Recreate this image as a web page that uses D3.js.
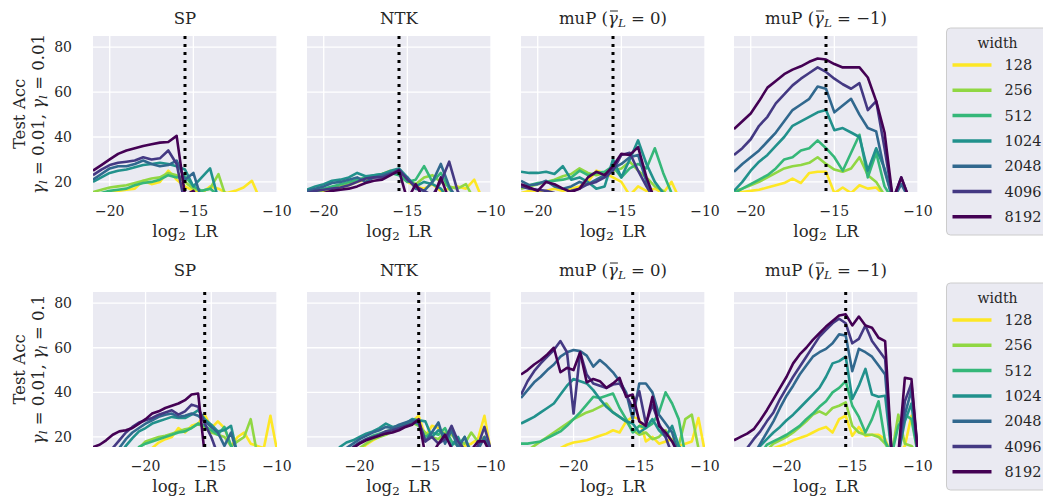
<!DOCTYPE html>
<html>
<head>
<meta charset="utf-8">
<script src="https://cdn.jsdelivr.net/npm/d3@7"></script>
<style>
  body { margin: 0; background: #fff; }
  text { font-family: "DejaVu Serif", serif; fill: #262626; }
</style>
</head>
<body>
<div id="viz"></div>
<script>
// log2 learning-rate grids (top row / bottom row)
var lr_top = d3.range(-21, -9.99, 0.5)
var lr_bot = d3.range(-24, -9.99, 0.5)
var widths = [128, 256, 512, 1024, 2048, 4096, 8192]
var opt_lr = -15.5
var acc_ticks = [20, 40, 60, 80]
var lr_ticks = [-20, -15, -10]

// test accuracy, one row per width (128 ... 8192); top row: gamma = 0.01, 0.01
var sp_top = [
  [14,14.5,15,16,16.5,17,20.5,19,20,25,21,18,16,15,18,17,15,16,17.5,20.5,12,10,10],
  [15.5,16.5,17.5,18,18.5,19.5,20.5,21.5,22,24,23,20,17,16,17,23.5,12,10,10,10,10,10,10],
  [14,15,16,16.5,17,18.5,19.5,20,21,23,22,22.5,18,16,17,14,10,10,10,10,10,10,10],
  [20,22,24,25,25.5,26.5,27.5,28,28.5,28,27,25.5,18,22,26,12,10,10,10,10,10,10,10],
  [21,23.5,26,27,27,28,29.5,28,27,27.5,29.5,21,24,12,10,10,10,10,10,10,10,10,10],
  [23,25.5,27.5,28.5,29,29.5,31,30,30.5,34,28,10,10,10,10,10,10,10,10,10,10,10,10],
  [25,27.5,30,32.5,34,35,36,36.8,37.5,37.8,40.5,14,16,10,10,10,10,10,10,10,10,10,10]
]
var ntk_top = [
  [14,15,15.5,16.5,17.5,18.5,20,21,22,23.5,25,24,20,18,17,19,16,17,18,17,21,12,10],
  [14,15,16.5,17.5,18.5,19.5,20.5,21.5,22.5,23,24.5,23.5,21,19,22,23,20,18,17,19,12,10,10],
  [15,16,17,18,19,20,21,22,23,23.5,24,23,20,21,27,20,24,17,12,10,10,10,10],
  [16.5,18,19,20.5,21,22,24,22.5,23,23.5,25,26,22,18,20,19,17,12,10,10,10,10,10],
  [16,17,18,19.5,20,21,22,20,22,23,24,24,22,17,16,20,28,18,12,10,10,10,10],
  [15,16,16.5,17,17.5,18.5,20,21.5,22,22,23.5,25.5,21,18,16,14,20,29,16,10,10,10,10],
  [14,14.5,15,16,16.5,17,18,19.5,20.5,21,23,25,12,19,12,12,22,12,10,10,10,10,10]
]
var mup0_top = [
  [15,16,15,16,17,16,17,18,20,25,24,22,20,14,18,16,17,15,20,12,10,10,10],
  [17,18,19,20,21,22.5,23.5,26,24,23,24,25,26,29,25,22,18,16,12,10,10,10,10],
  [18,18.5,19.5,20,20.5,21,22,25,23,24,24.5,27,22,26,28,26,35,24,15,12,10,10,10],
  [24.5,24,24,24.5,23.5,27,21,22,20,17,18,30,22,30,38.5,28,20,15,12,10,10,10,10],
  [20.5,18.5,19,20.5,18,17,18,20,19,21,23,26,28,31,32,20,12,10,10,10,10,10,10],
  [18,17,16.5,16,15,14,16,17,19,20,22,25,32,33,25,18,12,10,10,10,10,10,10],
  [19,17.5,16,20,19,17,15.5,17,22,24.5,23,27,32.5,32,35.5,22,12,10,10,10,10,10,10]
]
var mupm1_top = [
  [15,15.5,16,16.5,17.5,18.5,19.5,21.5,19.5,24,24.5,24.5,15,17.5,15,18.5,17,17.5,14,10,10,10,10],
  [16,17,18.5,20,22,24,26,27,27.5,28.5,31,28,25.5,24.5,26,31,23,20,14,12,10,10,10],
  [15,17,19,21,23,26,30,31,34,35,38.5,35,31,25,33,41,22,33,18,12,10,10,10],
  [16,20,25,29,32,36,40,45,47,49,51,52,43,44,42,40,25,35,26,12,10,10,10],
  [24.5,28,31,34,38,42,47,52,54.5,57,62.5,61.5,51,54,57,50,44,42.5,25,12,19,12,10],
  [32,35,39,45,49,55,59,63,66,68.5,71,69,66,63.5,61.5,64,52,56,35,12,22,12,10],
  [43.5,47,50.5,56,62,65,68,70,71.5,73.5,75,74.5,72.5,71,71,71,66.5,56,42,12,22,12,10]
]

// bottom row: gamma = 0.01, 0.1
var sp_bot = [
  [10,10,10,10,10,10,10,10,12,15,17.5,19,20,24,22,25,26,30,24,27,24,16,20,22,17,16,15,29.5,14],
  [10,10,10,10,10,10,12,15,18,19,20,20.5,21.5,22.5,23.5,24,26,24,22,21,20,16,18,20,28,12,10,10,10],
  [10,10,10,10,10,10,12,15.5,17,18,19,20,21,22,22.5,24,26,25,23,21,24.5,16,12,10,10,10,10,10,10],
  [10,10,10,10,12,16,19.5,22.5,24,26,27,28,29,28.5,28.5,30,32,28,25.5,22.5,23,25,12,10,10,10,10,10,10],
  [10,10,10,12,15,19,22,24,26,27.5,29,30,30.5,29,29.5,30.5,29.5,27,24.5,22,16,22,12,10,10,10,10,10,10],
  [10,10,10,15,18.5,22,24.5,26.5,27.5,28.5,30,31,32,30,31.5,34.5,33.5,26,20,12,10,10,10,10,10,10,10,10,10],
  [15.5,16.5,18.5,21,22.5,23,24,26,28,30.5,31.5,33,34,35,36.5,39,39.5,12,10,10,10,10,10,10,10,10,10,10,10]
]
var ntk_bot = [
  [10,10,10,10,10,10,10,12,14,16.5,18.5,20,21.5,23,24.5,25.5,27,29.5,20,25,24,21,22,18,16,17,19,29.5,13],
  [10,10,10,10,10,10,10,12,15,17,19,20,21,22.5,24,25.5,26.5,25,22,20,19,22,21,18,17,22,18,20,13],
  [10,10,10,10,10,10,12,15.5,17.5,19,20.5,21.5,22.5,23.5,24.5,25.5,27,25.5,20,22,21,24,18,16,20,13,10,10,10],
  [10,10,10,10,12,15.5,17.5,18.5,20,21.5,22.5,24,26,24.5,25,26,28,27.5,27,20,23,21,16,20,13,12,10,10,10],
  [10,10,10,10,10,12,15,17,19,20.5,22,23,24.5,24,25.5,26.5,27.5,26,18,22,26.5,17,23,15,20,12,14,20,13],
  [10,10,10,10,10,10,12,15.5,17.5,19,20,21,22.5,23,24,25,26,27.5,18,20,17,19,25,18,14,12,16,24.5,14],
  [10,10,10,10,10,10,10,15,17,18.5,19.5,20.5,21.5,22,23,24.5,25.5,28,12,12,17,21,15,12,12,14,18,18,12]
]
var mup0_bot = [
  [10,10,10,10,10,12,15,16.5,17.5,18,18.5,19.5,20.5,21.5,23,22,27,29,28,18,20,17,18,19,16,17,18,28.5,13],
  [12,14,16,18,20,22,24,26,28,29.5,31,32,33.5,35,31,29,27,23,21,22,19,20,23,18,16,28,30,15,12],
  [17,17,17.5,18,19.5,21,22.5,25,28,31,34.5,38,37.5,38.5,39.5,33,28,22,25,24,26,31,40,35,28,12,10,10,10],
  [26,27.5,29,31,33,35,39,43,46,45,44,41,37,33.5,31,29,27,26,22,24,28,23,20,25,16,12,10,10,10],
  [37.5,41,44.5,47,50,52.5,56,58,59,58.5,56.5,51.5,54.5,52,49,45,40,28,44,44,40,30,26,22,12,10,10,10,10],
  [39,45,49.5,53,56,59,63,58,30.5,58,48,44,43,42,43.5,44,39,33,40.5,26,34.5,26,20,12,10,10,10,10,10],
  [48,50,52.5,54.5,57,60,49,51,50,58,44.5,46,45,42,44,46.5,38,39,27,25,38,25,22,18,12,10,10,10,10]
]
var mupm1_bot = [
  [10,10,10,10,10,12,15,16,17,18.5,19.5,20.5,22,23.5,24.5,22,28,29.5,20.5,24.5,20.5,21,21,19,12,12,16,29.5,12],
  [10,10,10,10,12,14,17,18.5,20,22,24.5,27,30,31.5,30,33,34,35.5,25,22,21,21,20,17,12,30,17,16,12],
  [10,10,10,10,12,16.5,18,19.5,21,23,25,28,30.5,33.5,36,40,42,45,34,29,22,28,36,18,12,25,30,28,12],
  [10,10,10,12,16,19,22,24.5,27.5,30,33,36,39,42,47,53,54,56,37,43,50.5,39,38,38.5,12,12,27,35,12],
  [10,10,10,12,17,22,27,33,38.5,43,48,52,56,58,59.5,62,66,65.5,49.5,59.5,58,56,52,48,12,12,30,41,12],
  [10,12,15,19,22.5,27,31,37,42,47,51.5,56,60.5,65,68,71,73,71,62,64,70,63,59,55,12,12,36,44,12],
  [18.5,20,21.5,23.5,27.5,32,37,42,47,53,57,60,63.5,66.5,69.5,72,74.5,75,70,74,70,69,64.5,63,12,12,46.5,46,12]
]

var width = 1043, height = 502
var col_left = [93, 307, 521, 734], panel_w = 184
var rows = [
  { top: 36, h: 156, lr: lr_top, dom: [-21, -10], panels: [sp_top, ntk_top, mup0_top, mupm1_top], gamma: "0.01", legendTop: 28, titleOff: 18 },
  { top: 292, h: 155, lr: lr_bot, dom: [-24, -10], panels: [sp_bot, ntk_bot, mup0_bot, mupm1_bot], gamma: "0.1", legendTop: 283, titleOff: 22 }
]
var color = function (i) { return d3.interpolateViridis(1 - i / 6) }

var svg = d3.select("#viz").append("svg")
  .attr("width", width).attr("height", height)

// write text with italics / subscripts: parts = [[str, italic, sub], ...]
function mathText(t, parts, size) {
  var shift = 0
  parts.forEach(function (p) {
    var span = t.append("tspan").text(p[0])
    if (p[1]) span.style("font-style", "italic")
    var want = p[2] ? size * 0.3 : 0
    if (want != shift) { span.attr("dy", want - shift); shift = want }
    if (p[2]) span.style("font-size", (size * 0.72) + "px")
  })
}

function titleParts(c) {
  if (c == 0) return [["SP"]]
  if (c == 1) return [["NTK"]]
  return [["muP ("], ["\u03B3", true], ["L", true, true], [c == 2 ? " = 0)" : " = \u22121)"]]
}

rows.forEach(function (row, r) {
  var y = d3.scaleLinear().domain([15.5, 85]).range([row.h, 0])
  var x = d3.scaleLinear().domain(row.dom).range([0, panel_w])

  row.panels.forEach(function (series, c) {
    var g = svg.append("g").attr("transform", "translate(" + col_left[c] + "," + row.top + ")")
    g.append("rect").attr("width", panel_w).attr("height", row.h).attr("fill", "#eaeaf2")

    var clipId = "clip" + r + c
    g.append("clipPath").attr("id", clipId).append("rect")
      .attr("width", panel_w).attr("height", row.h)

    // grid
    g.selectAll(".hg").data(acc_ticks).enter().append("line")
      .attr("x1", 0).attr("x2", panel_w)
      .attr("y1", function (d) { return y(d) }).attr("y2", function (d) { return y(d) })
      .attr("stroke", "#fff").attr("stroke-width", 1.3)
    g.selectAll(".vg").data(lr_ticks).enter().append("line")
      .attr("x1", function (d) { return x(d) }).attr("x2", function (d) { return x(d) })
      .attr("y1", 0).attr("y2", row.h)
      .attr("stroke", "#fff").attr("stroke-width", 1.3)

    // tick labels
    g.selectAll(".xt").data(lr_ticks).enter().append("text")
      .attr("x", function (d) { return x(d) }).attr("y", row.h + 19)
      .attr("text-anchor", "middle").attr("dominant-baseline", "central")
      .style("font-size", "14px")
      .text(function (d) { return d3.format("d")(d) })
    if (c == 0) {
      g.selectAll(".yt").data(acc_ticks).enter().append("text")
        .attr("x", -21).attr("y", function (d) { return y(d) })
        .attr("text-anchor", "end").attr("dominant-baseline", "central")
        .style("font-size", "14px")
        .text(function (d) { return d })
    }

    // curves
    var line = d3.line()
      .x(function (d, i) { return x(row.lr[i]) })
      .y(function (d) { return y(d) })
    g.append("g").attr("clip-path", "url(#" + clipId + ")")
      .selectAll("path").data(series).enter().append("path")
      .attr("d", line)
      .attr("fill", "none")
      .attr("stroke", function (d, i) { return color(i) })
      .attr("stroke-width", 2.6)
      .attr("stroke-linejoin", "round")

    // reference lr
    g.append("line")
      .attr("x1", x(opt_lr)).attr("x2", x(opt_lr))
      .attr("y1", 0).attr("y2", row.h)
      .attr("stroke", "#000").attr("stroke-width", 3)
      .attr("stroke-dasharray", "3,5")

    // title
    var tt = g.append("text").attr("x", panel_w / 2).attr("y", -row.titleOff)
      .attr("text-anchor", "middle").attr("dominant-baseline", "central")
      .style("font-size", "16.5px")
    mathText(tt, titleParts(c), 16.5)
    if (c >= 2) {
      // bar over gamma
      var b = tt.node().getExtentOfChar(5)
      g.append("line")
        .attr("x1", b.x + 2).attr("x2", b.x + b.width)
        .attr("y1", b.y + 2.5).attr("y2", b.y + 2.5)
        .attr("stroke", "#262626").attr("stroke-width", 1)
    }

    // x label
    var xl = g.append("text").attr("x", panel_w / 2).attr("y", row.h + 39)
      .attr("text-anchor", "middle").attr("dominant-baseline", "central")
      .style("font-size", "16.5px")
    mathText(xl, [["log"], ["2", false, true], ["\u2009 LR"]], 16.5)
  })

  // y label (two lines)
  var cy = row.top + row.h / 2
  svg.append("text")
    .attr("transform", "translate(19," + cy + ") rotate(-90)")
    .attr("text-anchor", "middle").attr("dominant-baseline", "central")
    .style("font-size", "16.5px")
    .text("Test Acc")
  var yl = svg.append("text")
    .attr("transform", "translate(38," + cy + ") rotate(-90)")
    .attr("text-anchor", "middle").attr("dominant-baseline", "central")
    .style("font-size", "16.5px")
  mathText(yl, [["\u03B3", true], ["l", true, true], [" = 0.01, "], ["\u03B3", true], ["l", true, true], [" = " + row.gamma]], 16.5)

  // legend
  var lg = svg.append("g").attr("transform", "translate(946.5," + row.legendTop + ")")
  lg.append("rect").attr("width", 120).attr("height", 207).attr("rx", 4)
    .attr("fill", "#eaeaf2").attr("stroke", "#cccccc").attr("stroke-width", 1)
  lg.append("text").attr("x", 51).attr("y", 15).attr("text-anchor", "middle")
    .attr("dominant-baseline", "central").style("font-size", "14px").text("width")
  var items = lg.selectAll(".it").data(widths).enter().append("g")
    .attr("transform", function (d, i) { return "translate(0," + (37 + i * 25.3) + ")" })
  items.append("line").attr("x1", 6).attr("x2", 45)
    .attr("stroke", function (d, i) { return color(i) }).attr("stroke-width", 3.5)
  items.append("text").attr("x", 58).attr("dominant-baseline", "central")
    .style("font-size", "14.5px").text(function (d) { return d })
})
</script>
</body>
</html>
